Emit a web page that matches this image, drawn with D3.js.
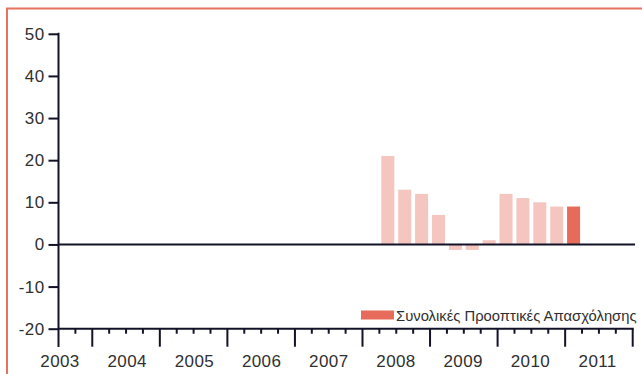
<!DOCTYPE html>
<html>
<head>
<meta charset="utf-8">
<script src="https://cdn.jsdelivr.net/npm/d3@7"></script>
<style>
  html, body { margin: 0; padding: 0; background: #fff; }
  svg { display: block; }
  text { font-family: "Liberation Sans", Arial, sans-serif; fill: #303030; }
</style>
</head>
<body>
<svg id="chart" width="642" height="374"></svg>
<script>
// Quarterly survey balance, 2008 Q2 – 2011 Q1
const quarters = ["2008Q2","2008Q3","2008Q4","2009Q1","2009Q2","2009Q3","2009Q4",
                  "2010Q1","2010Q2","2010Q3","2010Q4","2011Q1"];
const values   = [21, 13, 12, 7, -1.3, -1.3, 1, 12, 11, 10, 9, 9];
const years    = [2003, 2004, 2005, 2006, 2007, 2008, 2009, 2010, 2011];
const yTicks   = [50, 40, 30, 20, 10, 0, -10, -20];
const legendLabel = "Συνολικές Προοπτικές Απασχόλησης";

const svg = d3.select("#chart");
const ink = "#121228";
const light = "#f5c5bf";
const strong = "#e76b5b";

// outer frame (top and left edges visible)
svg.append("rect")
  .attr("x", 7).attr("y", 8.5)
  .attr("width", 700).attr("height", 400)
  .attr("fill", "none").attr("stroke", "#e8705f").attr("stroke-width", 2);

const x = d3.scaleLinear().domain([2003.5, 2012]).range([58.5, 632.7]);
const y = d3.scaleLinear().domain([-20, 50]).range([328.7, 33.8]);

const tOf = q => +q.slice(0, 4) + (+q.slice(5) - 1) / 4;
const qw = x(2004.25) - x(2004);
const barW = 13;

// bars
svg.append("g").selectAll("rect")
  .data(quarters.map((q, i) => ({ q, v: values[i], last: i === quarters.length - 1 })))
  .join("rect")
  .attr("x", d => x(tOf(d.q)) + qw / 2 - barW / 2)
  .attr("width", barW)
  .attr("y", d => y(Math.max(0, d.v)))
  .attr("height", d => Math.abs(y(d.v) - y(0)))
  .attr("fill", d => d.last ? strong : light);

// zero line
svg.append("line")
  .attr("x1", x.range()[0]).attr("x2", 635)
  .attr("y1", y(0)).attr("y2", y(0))
  .attr("stroke", ink).attr("stroke-width", 2);

// y axis (plain hyphen for negatives)
const yAxis = svg.append("g")
  .attr("transform", `translate(${x.range()[0]},0)`)
  .call(d3.axisLeft(y).tickValues(yTicks).tickFormat(d => String(d))
    .tickSize(10).tickPadding(4).tickSizeOuter(0));
yAxis.select(".domain").remove();
yAxis.selectAll(".tick line").attr("stroke", ink).attr("stroke-width", 2);
yAxis.selectAll(".tick text")
  .style("font-size", "17px").style("letter-spacing", "0.4px")
  .attr("fill", "#303030");

svg.append("line")
  .attr("x1", x.range()[0]).attr("x2", x.range()[0])
  .attr("y1", y(50) - 1).attr("y2", 347)
  .attr("stroke", ink).attr("stroke-width", 2);

// x axis: quarter ticks, long ticks at year boundaries
const qTicks = d3.range(2003.75, 2012.01, 0.25);
const xAxisY = y(-20);
const xg = svg.append("g").attr("transform", `translate(0,${xAxisY})`);
xg.append("line")
  .attr("x1", x.range()[0]).attr("x2", x.range()[1] + 1)
  .attr("stroke", ink).attr("stroke-width", 2);
xg.selectAll("line.qt")
  .data(qTicks)
  .join("line")
  .attr("class", "qt")
  .attr("x1", d => x(d)).attr("x2", d => x(d))
  .attr("y1", 0)
  .attr("y2", d => Number.isInteger(d) ? 18 : 5)
  .attr("stroke", ink).attr("stroke-width", 2);

xg.selectAll("text.yr")
  .data(years)
  .join("text")
  .attr("class", "yr")
  .attr("x", d => x(d + 0.5) + 1.5 - (d - 2003) * 0.35)
  .attr("y", 38)
  .attr("text-anchor", "middle")
  .style("font-size", "17px").style("letter-spacing", "0.4px")
  .text(d => d);

// legend
const lg = svg.append("g");
lg.append("rect")
  .attr("x", 361).attr("y", 310.5)
  .attr("width", 33).attr("height", 9)
  .attr("fill", strong);
lg.append("text")
  .attr("x", 396).attr("y", 320.5)
  .style("font-size", "14.8px")
  .attr("fill", "#1c1c30")
  .text(legendLabel);
</script>
</body>
</html>
